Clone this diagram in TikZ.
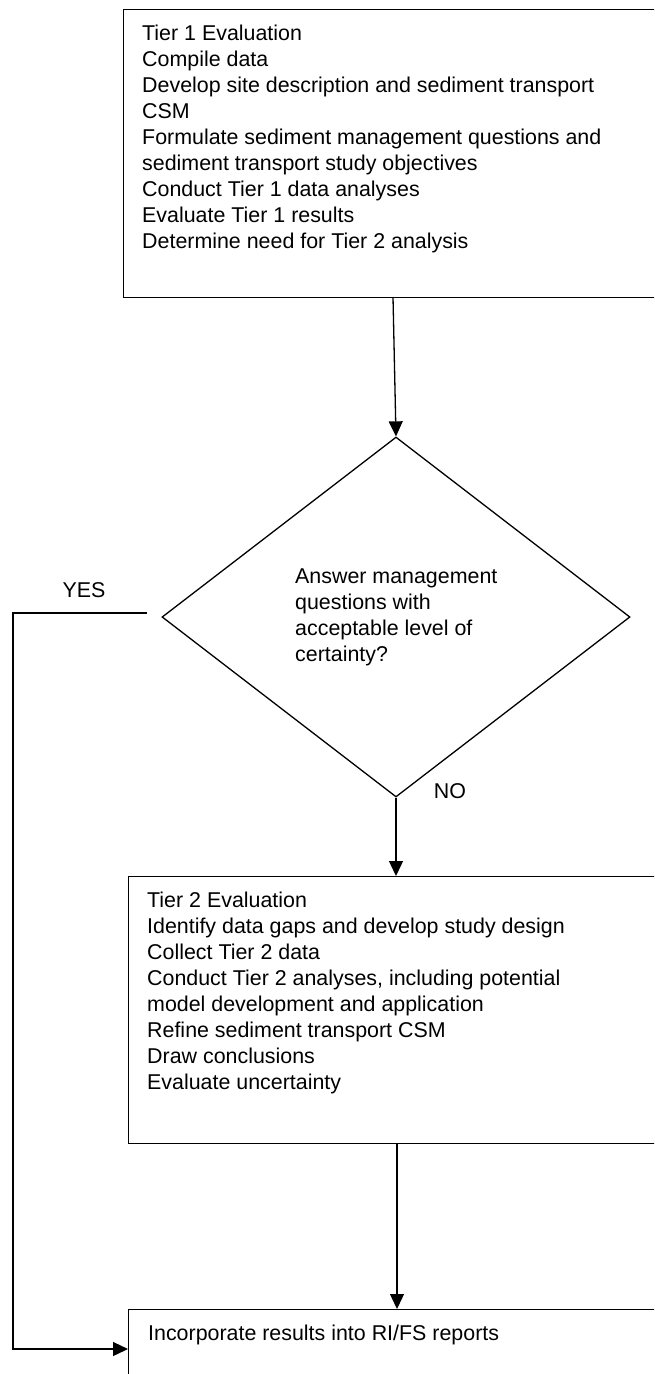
\documentclass[tikz,border=0pt]{standalone}
\usepackage{fontspec}
\setmainfont{Liberation Sans}
\usetikzlibrary{shapes.geometric,arrows.meta,calc}
\begin{document}
\begin{tikzpicture}[x=1pt,y=-1pt,
  box/.style={draw,line width=1.3pt,anchor=north west,inner sep=0pt,minimum width=550pt},
  txt/.style={anchor=base west,align=left,inner sep=0pt,font=\fontsize{21.4}{26}\selectfont},
  lbl/.style={anchor=base,inner sep=0pt,font=\fontsize{21.4}{26}\selectfont},
  conn/.style={line width=1.3pt},
  arr/.style={conn,-{Triangle[length=15pt,width=14pt]}}]
\useasboundingbox (0,0) rectangle (654,1374);
\clip (0,0) rectangle (654,1374);
% boxes
\node[box,minimum height=288pt] (t1) at (123,9) {};
\node[box,minimum height=267pt] (t2) at (128,876) {};
\node[box,minimum height=100pt] (t3) at (128,1309) {};
\node[draw,diamond,line width=1.3pt,inner sep=0pt,minimum width=468pt,minimum height=360pt] (d) at (396,617) {};
% texts (anchored at the baseline of their last line)
\node[txt] (t1text) at (142,248) {Tier 1 Evaluation\\Compile data\\Develop site description and sediment transport\\CSM\\Formulate sediment management questions and\\sediment transport study objectives\\Conduct Tier 1 data analyses\\Evaluate Tier 1 results\\Determine need for Tier 2 analysis};
\node[txt] (dtext) at (295,661) {Answer management\\questions with\\acceptable level of\\certainty?};
\node[txt] (t2text) at (147,1089) {Tier 2 Evaluation\\Identify data gaps and develop study design\\Collect Tier 2 data\\Conduct Tier 2 analyses, including potential\\model development and application\\Refine sediment transport CSM\\Draw conclusions\\Evaluate uncertainty};
\node[txt] (t3text) at (148,1340) {Incorporate results into RI/FS reports};
\node[lbl] (yes) at (84,597) {YES};
\node[lbl] (no) at (450,798) {NO};
% connectors
\coordinate (a1) at (393,297);
\coordinate (ys) at (147,613);
\coordinate (a3) at (397,1143);
\coordinate (b3) at ($(t3.north west)+(0,40)$);
\draw[arr] (a1) -- (d.north);
\draw[arr] (d.south) -- (d.south |- t2.north);
\draw[arr] (a3) -- (a3 |- t3.north);
\draw[arr] (ys) -- (13,613) |- (b3);
\end{tikzpicture}
\end{document}
